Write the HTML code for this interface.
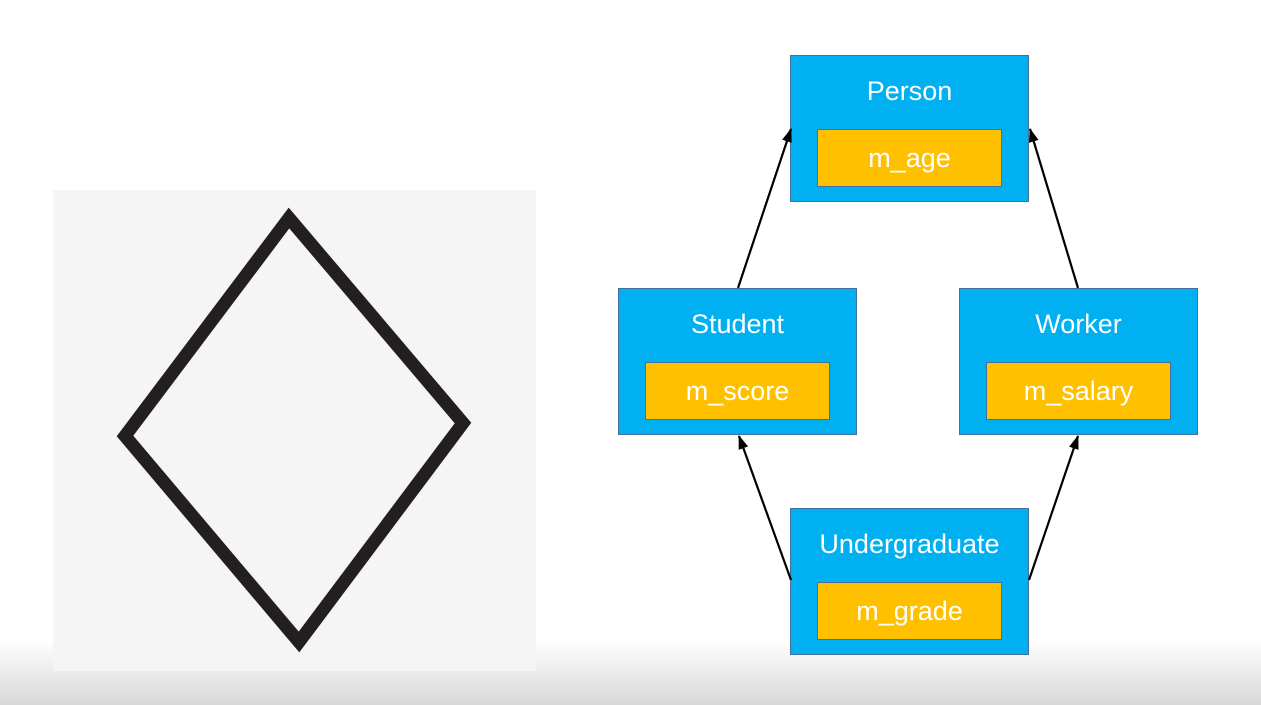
<!DOCTYPE html>
<html><head><style>
body{margin:0;width:1261px;height:705px;position:relative;overflow:hidden;background:#fff;font-family:"Liberation Sans",sans-serif}
.grad{position:absolute;left:0;top:640px;width:1261px;height:65px;background:linear-gradient(#fff,#d8d8d8)}
.panel{position:absolute;left:53px;top:190px;width:483px;height:481px;background:#f6f5f5}
.b{position:absolute;width:237px;height:145px;background:#00b0f0;border:1px solid #41719c;color:#fff;font-size:27px;text-align:center}
.b .t{position:absolute;left:0;right:0;top:20px}
.b .i{position:absolute;left:26px;top:73px;width:183px;height:56px;background:#ffc000;border:1px solid #41719c;line-height:56px}
</style></head><body>
<div class="grad"></div>
<div class="panel"></div>
<svg width="1261" height="705" style="position:absolute;left:0;top:0">
<polygon points="289,218 463,423 299,642 125,436" fill="none" stroke="#231f20" stroke-width="13" stroke-linejoin="miter"/>
</svg>
<div class="b" style="left:790px;top:55px"><div class="t">Person</div><div class="i">m_age</div></div>
<div class="b" style="left:618px;top:288px"><div class="t">Student</div><div class="i">m_score</div></div>
<div class="b" style="left:959px;top:288px"><div class="t">Worker</div><div class="i">m_salary</div></div>
<div class="b" style="left:790px;top:508px"><div class="t">Undergraduate</div><div class="i">m_grade</div></div>
<svg width="1261" height="705" style="position:absolute;left:0;top:0">
<defs><marker id="a" markerWidth="14" markerHeight="12" refX="13" refY="6" orient="auto" markerUnits="userSpaceOnUse"><path d="M0,1 L14,6 L0,11 z" fill="#000"/></marker></defs>
<g stroke="#000" stroke-width="2.2" marker-end="url(#a)">
<line x1="738" y1="288" x2="791" y2="129"/>
<line x1="1078" y1="288" x2="1030" y2="129"/>
<line x1="791" y1="580" x2="739" y2="436"/>
<line x1="1029" y1="580" x2="1078" y2="436"/>
</g></svg>
</body></html>
